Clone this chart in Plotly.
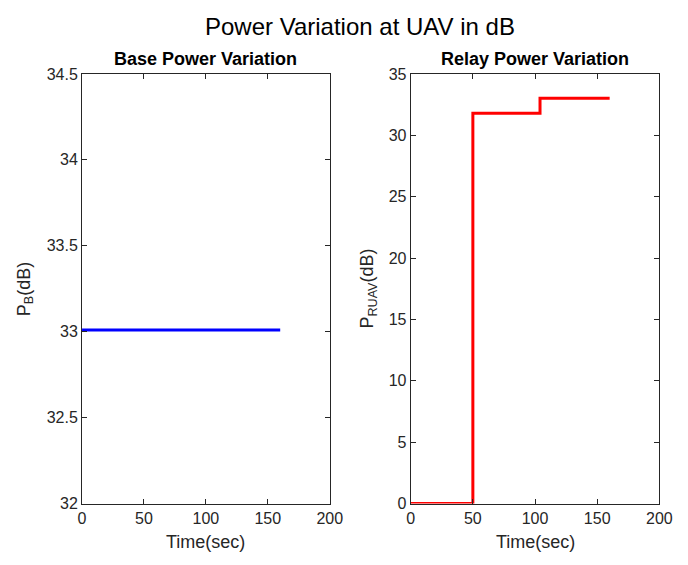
import plotly.graph_objects as go

# Data
base_time = [0, 160]
base_power = [33.01, 33.01]

relay_time = [0, 50, 50, 104, 104, 160]
relay_power = [0, 0, 31.8, 31.8, 33.03, 33.03]

left_yticks = [32, 32.5, 33, 33.5, 34, 34.5]
left_yticklabels = ["32", "32.5", "33", "33.5", "34", "34.5"]
right_yticks = [0, 5, 10, 15, 20, 25, 30, 35]
xticks = [0, 50, 100, 150, 200]

W, H = 688, 565
def px(x):
    return x / W
def py(y):
    return 1 - y / H

AX = "#262626"
FONT = "Liberation Sans, Arial, Helvetica, sans-serif"

fig = go.Figure()
fig.add_trace(go.Scatter(x=base_time, y=base_power, mode="lines",
                         line=dict(color="#0000FF", width=3), xaxis="x", yaxis="y",
                         showlegend=False))
fig.add_trace(go.Scatter(x=relay_time, y=relay_power, mode="lines",
                         line=dict(color="#FF0000", width=3), xaxis="x2", yaxis="y2",
                         showlegend=False))

common = dict(showline=True, linecolor=AX, linewidth=1, mirror="allticks",
              ticks="inside", ticklen=5, tickcolor=AX, tickwidth=1,
              showgrid=False, zeroline=False,
              tickfont=dict(family=FONT, size=16, color=AX))

fig.update_layout(
    width=W, height=H,
    margin=dict(l=0, r=0, t=0, b=0),
    paper_bgcolor="white", plot_bgcolor="white",
    font=dict(family=FONT, color=AX),
    xaxis=dict(domain=[px(80), px(334)], range=[0, 200], tickvals=xticks,
               anchor="y", **common),
    yaxis=dict(domain=[py(511), py(68)], range=[32, 34.5], tickvals=left_yticks,
               ticktext=left_yticklabels, anchor="x", **common),
    xaxis2=dict(domain=[px(417), px(672)], range=[0, 200], tickvals=xticks,
                anchor="y2", **common),
    yaxis2=dict(domain=[py(511), py(68)], range=[0, 35], tickvals=right_yticks,
                anchor="x2", **common),
)

ann = []
ann.append(dict(text="Power Variation at UAV in dB", x=px(365), y=py(19),
                xref="paper", yref="paper", showarrow=False,
                xanchor="center", yanchor="middle",
                font=dict(family=FONT, size=24, color="black")))
for cx, t in [(207, "Base Power Variation"), (544.5, "Relay Power Variation")]:
    ann.append(dict(text="<b>%s</b>" % t, x=px(cx), y=py(53), xref="paper", yref="paper",
                    showarrow=False, xanchor="center", yanchor="middle",
                    font=dict(family=FONT, size=18, color="black")))
for cx in [207, 544.5]:
    ann.append(dict(text="Time(sec)", x=px(cx), y=py(551), xref="paper", yref="paper",
                    showarrow=False, xanchor="center", yanchor="middle",
                    font=dict(family=FONT, size=18, color=AX)))
for cx, t in [(22, "P<sub>B</sub>(dB)"), (374, "P<sub>RUAV</sub>(dB)")]:
    ann.append(dict(text=t, x=px(cx), y=py(289.5), xref="paper", yref="paper",
                    showarrow=False, xanchor="center", yanchor="middle", textangle=-90,
                    font=dict(family=FONT, size=18, color=AX)))
fig.update_layout(annotations=ann)

fig.write_html("out.html")
